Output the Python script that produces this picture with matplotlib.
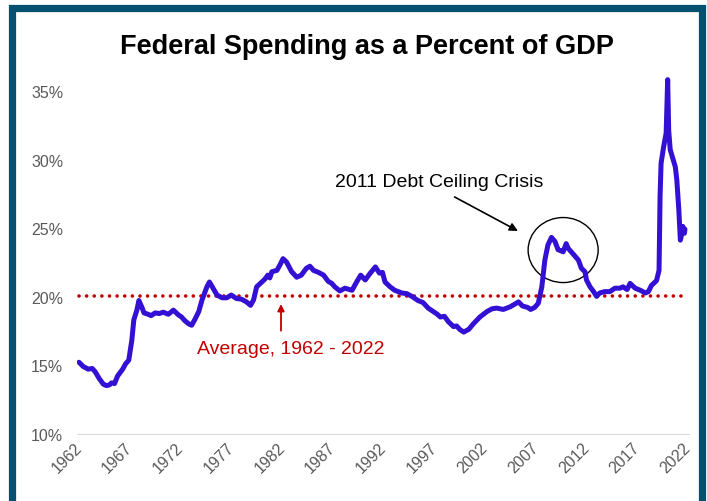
import matplotlib
matplotlib.use('Agg')
import matplotlib.pyplot as plt
import matplotlib.transforms as mtransforms
from matplotlib.patches import Ellipse, Rectangle

plt.rcParams['font.family'] = ['Liberation Sans', 'DejaVu Sans']

# quarterly-ish readings, % of GDP
years = [
    1962.0, 1962.4, 1962.9, 1963.3, 1963.6, 1964.0, 1964.4, 1964.7, 1965.0, 1965.2,
    1965.5, 1965.8, 1966.3, 1966.6, 1966.9, 1967.2, 1967.4, 1967.7, 1967.9, 1968.2,
    1968.4, 1968.8, 1969.1, 1969.5, 1969.9, 1970.3, 1970.8, 1971.3, 1971.8, 1972.1,
    1972.4, 1972.8, 1973.1, 1973.4, 1973.8, 1974.1, 1974.6, 1974.85, 1975.2, 1975.6,
    1976.1, 1976.55, 1977.0, 1977.5, 1978.0, 1978.5, 1978.9, 1979.2, 1979.5, 1980.0,
    1980.3, 1980.6, 1980.8, 1981.0, 1981.5, 1981.8, 1982.1, 1982.45, 1982.95, 1983.45,
    1983.9, 1984.4, 1984.75, 1985.1, 1985.6, 1986.1, 1986.55, 1986.9, 1987.2, 1987.7,
    1988.2, 1988.9, 1989.35, 1989.75, 1990.2, 1990.7, 1991.2, 1991.6, 1991.9, 1992.15,
    1992.65, 1993.1, 1993.8, 1994.3, 1994.8, 1995.4, 1995.9, 1996.4, 1996.9, 1997.3,
    1997.6, 1998.0, 1998.4, 1998.9, 1999.2, 1999.5, 1999.9, 2000.4, 2000.85, 2001.5,
    2002.2, 2002.7, 2003.15, 2003.8, 2004.5, 2004.95, 2005.3, 2005.7, 2006.2, 2006.5,
    2006.9, 2007.25, 2007.6, 2007.9, 2008.2, 2008.55, 2008.9, 2009.2, 2009.4, 2009.7,
    2010.0, 2010.2, 2010.5, 2010.9, 2011.2, 2011.5, 2011.85, 2012.0, 2012.35, 2012.7,
    2013.0, 2013.3, 2013.8, 2014.3, 2014.8, 2015.3, 2015.6, 2016.0, 2016.3, 2016.8,
    2017.3, 2017.8, 2018.1, 2018.4, 2018.9, 2019.15, 2019.25, 2019.35, 2019.6, 2019.85,
    2020.0, 2020.1, 2020.25, 2020.75, 2020.9, 2021.1, 2021.25, 2021.4, 2021.5, 2021.65,
    2021.7,
]
spending = [
    15.3, 15.0, 14.8, 14.85, 14.6, 14.1, 13.7, 13.6, 13.65, 13.8,
    13.75, 14.3, 14.8, 15.2, 15.45, 16.9, 18.4, 19.1, 19.8, 19.3,
    18.9, 18.8, 18.7, 18.9, 18.85, 18.95, 18.8, 19.1, 18.75, 18.6,
    18.35, 18.1, 18.0, 18.4, 19.0, 19.8, 20.8, 21.15, 20.7, 20.2,
    20.0, 20.0, 20.2, 19.95, 19.9, 19.7, 19.45, 19.85, 20.8, 21.15,
    21.35, 21.65, 21.45, 21.9, 22.0, 22.4, 22.85, 22.6, 21.9, 21.5,
    21.65, 22.15, 22.3, 22.0, 21.85, 21.65, 21.2, 21.05, 20.8, 20.5,
    20.7, 20.55, 21.15, 21.65, 21.3, 21.8, 22.25, 21.8, 21.85, 21.15,
    20.8, 20.55, 20.35, 20.3, 20.1, 19.8, 19.65, 19.25, 19.0, 18.8,
    18.6, 18.65, 18.25, 17.9, 17.95, 17.7, 17.5, 17.7, 18.1, 18.6,
    19.0, 19.2, 19.25, 19.15, 19.35, 19.55, 19.7, 19.4, 19.3, 19.15,
    19.3, 19.6, 20.8, 22.75, 23.85, 24.4, 24.1, 23.5, 23.45, 23.35,
    23.95, 23.6, 23.35, 23.0, 22.75, 22.15, 21.9, 21.3, 20.8, 20.45,
    20.1, 20.35, 20.45, 20.45, 20.7, 20.7, 20.8, 20.6, 21.05, 20.7,
    20.55, 20.35, 20.45, 20.9, 21.25, 22.0, 27.4, 29.8, 31.0, 32.0,
    35.9, 32.2, 30.8, 29.55, 28.6, 26.4, 24.2, 24.7, 25.2, 24.7,
    25.0,
]
avg_pct = 20.1
avg_span = [1962, 2021.3]
tick_years = list(range(1962, 2023, 5))
y_ticks = [10, 15, 20, 25, 30, 35]

W, H = 707, 501
fig = plt.figure(figsize=(W / 100, H / 100), dpi=100)
ax = fig.add_axes([77 / W, (H - 435) / H, 613 / W, (435 - 71.4) / H])

ax.plot(years, spending, color='#3410D4', lw=3.6,
        solid_joinstyle='round', solid_capstyle='round', zorder=3)
ax.plot(avg_span, [avg_pct, avg_pct], color='#C00000', lw=2.6,
        linestyle=(0, (0.01, 2.1)), dash_capstyle='round', zorder=2)
ax.axhline(10, color='#D9D9D9', lw=1.5, zorder=1)

ax.set_xlim(1961.8, 2022.2)
ax.set_ylim(10, 36.5)
ax.set_yticks(y_ticks)
ax.set_yticklabels([f'{v}%' for v in y_ticks])
ax.set_xticks(tick_years)
ax.set_xticklabels([str(y) for y in tick_years], rotation=45, ha='right')
ax.tick_params(length=0, colors='#595959', labelsize=11.5)
ax.tick_params(axis='y', pad=10)
ax.tick_params(axis='x', pad=4)
shift = mtransforms.ScaledTranslation(4 / 72, 0, fig.dpi_scale_trans)
for lbl in ax.get_xticklabels():
    lbl.set_transform(lbl.get_transform() + shift)
for s in ax.spines.values():
    s.set_visible(False)

fig.text(367 / W, 1 - 47 / H, 'Federal Spending as a Percent of GDP',
         ha='center', va='center', fontsize=19.5, fontweight='bold')

# debt ceiling callout
ax.text(1997.5, 28.37, '2011 Debt Ceiling Crisis', ha='center', va='center', fontsize=14)
ax.annotate('', xy=(2005.25, 24.87), xytext=(1999.0, 27.35),
            arrowprops=dict(arrowstyle='-|>', color='black', lw=1.2,
                            mutation_scale=12, shrinkA=0, shrinkB=0))
ax.add_patch(Ellipse((2009.7, 23.48), 6.9, 4.74, fill=False, edgecolor='black', lw=1))

# average label
ax.text(1982.9, 16.2, 'Average, 1962 - 2022', color='#C00000',
        ha='center', va='center', fontsize=14)
ax.annotate('', xy=(1981.9, 19.55), xytext=(1981.9, 17.6),
            arrowprops=dict(arrowstyle='-|>', color='#C00000', lw=1.3,
                            mutation_scale=10, shrinkA=0, shrinkB=0))

# frame
frame = Rectangle((11.5 / W, -0.1), 690 / W, 1.1 - 8.5 / H, transform=fig.transFigure,
                  fill=False, edgecolor='#03506F', lw=5.2, clip_on=False)
fig.add_artist(frame)

fig.savefig('out.png', dpi=100)
